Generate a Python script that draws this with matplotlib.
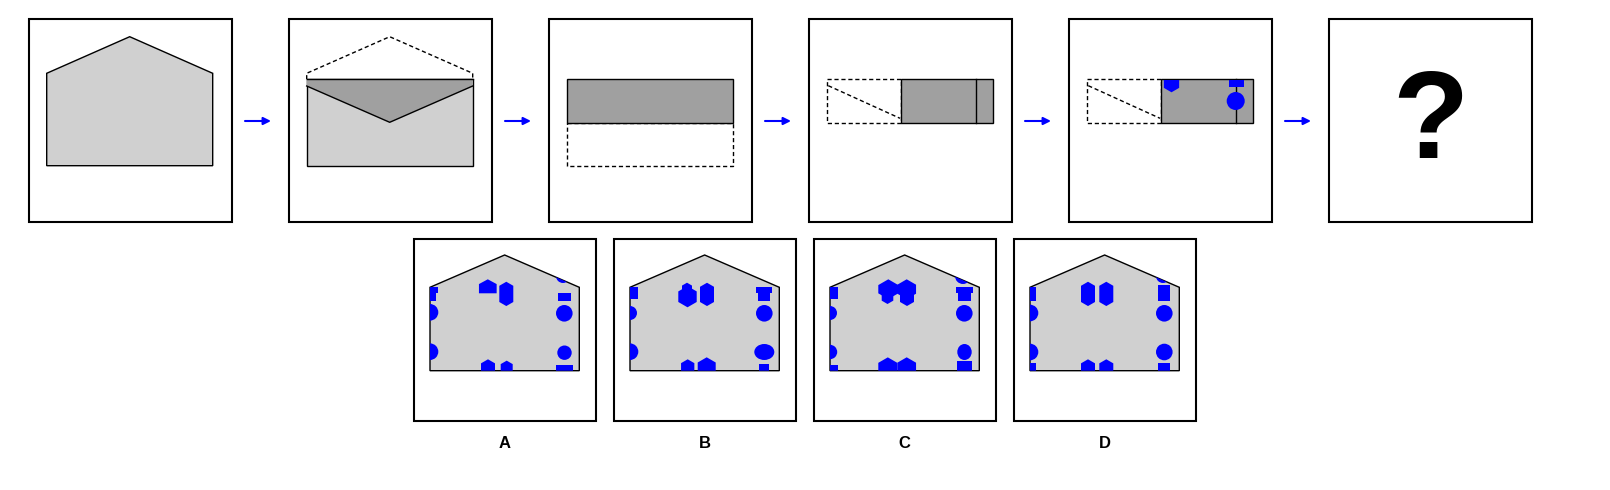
import matplotlib
matplotlib.use("Agg")
import matplotlib.pyplot as plt
from matplotlib.patches import Polygon, Rectangle, Ellipse

plt.rcParams['font.family'] = ['Liberation Sans', 'DejaVu Sans']

W, H = 1610, 490

# top row: folding steps
step_left = [29, 289, 549, 809, 1069, 1329]
step_top = 19
step_size = 203

# envelope geometry, x relative to the step box
env_x0, env_x1 = 17.7, 183.7
env_apex_y = 36.7
env_shoulder_y = 73.3
env_top_y = 79.3
env_band_y = 86.0
env_v_y = 122.3
env_mid_y = 122.7
env_bottom_y = 165.7
fold_x = 91.7
crease_x = 166.7
diag = [(19.3, 85.7), (91.0, 118.3)]

# punched holes in step 5
step5_holes = [
    ("vpent", 102.5, 80.0, 15.3, 92.3),
    ("rect", 160.0, 80.0, 175.0, 87.0),
    ("circle", 166.7, 101.0, 9.0, 9.0),
]

# bottom row: answer options
opt_left = [414, 614, 814, 1014]
opt_top = 239.3
opt_size = 181.5
opt_labels = ["A", "B", "C", "D"]
house_dx = 16.0
house_w = 149.3
house_apex_y = 255.0
house_shoulder_y = 287.3
house_bottom_y = 370.7

# holes per option, x relative to the house's left edge
holes_a = [
    ("rect", -10, 287.3, 8.3, 293.3), ("rect", -10, 293.3, 6.0, 301.0),
    ("circle", 0, 312.3, 8.3, 8.3), ("circle", 0, 351.7, 8.3, 8.3),
    ("pent", 57.8, 279.3, 17.7, 293.3),
    ("hex", 76.3, 293.9, 14.0, 24.3),
    ("circle", 133.0, 276.0, 7.0, 7.0),
    ("rect", 127.7, 293.3, 140.7, 301.0),
    ("circle", 134.3, 313.3, 8.3, 8.3), ("circle", 134.5, 352.7, 7.2, 7.2),
    ("rect", 126.0, 365.0, 142.7, 374.0),
    ("hex", 58.0, 367.4, 14.0, 16.2), ("hex", 76.7, 367.6, 12.0, 13.9),
]
holes_b = [
    ("rect", -10, 287.3, 8.3, 299.3),
    ("circle", 0, 313.0, 7.0, 7.0), ("circle", 0, 351.7, 8.3, 8.3),
    ("hex", 57.0, 288.5, 10.0, 11.6), ("hex", 57.5, 296.7, 18.4, 21.2),
    ("hex", 77.0, 294.4, 14.0, 23.3),
    ("rect", 126.0, 287.3, 142.3, 293.3), ("rect", 128.3, 293.3, 140.0, 301.0),
    ("circle", 134.3, 313.3, 8.3, 8.3), ("circle", 134.3, 352.0, 10.0, 8.0),
    ("rect", 129.0, 364.3, 139.3, 374.0),
    ("hex", 57.7, 367.0, 13.3, 15.4), ("hex", 76.7, 367.7, 18.0, 20.8),
]
holes_c = [
    ("rect", -10, 287.3, 8.3, 299.0),
    ("circle", 0, 313.0, 7.0, 7.0), ("circle", 0, 352.0, 7.2, 7.2),
    ("rect", -10, 365.0, 8.3, 374.0),
    ("hex", 58.3, 289.2, 20.0, 19.8), ("hex", 57.5, 294.0, 11.6, 20.0),
    ("hex", 76.7, 289.2, 18.7, 19.8), ("hex", 77.0, 295.0, 14.0, 22.0),
    ("circle", 133.0, 276.0, 8.0, 8.0),
    ("rect", 125.7, 287.3, 142.7, 293.3), ("rect", 127.7, 293.3, 140.7, 301.0),
    ("circle", 134.3, 313.3, 8.3, 8.3), ("circle", 134.5, 352.0, 7.2, 8.0),
    ("rect", 126.7, 361.0, 142.0, 374.0),
    ("hex", 57.8, 368.3, 19.0, 21.9), ("hex", 76.7, 368.1, 18.7, 21.6),
]
holes_d = [
    ("rect", -10, 287.3, 6.0, 301.0),
    ("circle", 0, 313.0, 8.3, 8.3), ("circle", 0, 352.0, 8.3, 8.3),
    ("rect", -10, 362.7, 6.0, 374.0),
    ("hex", 58.0, 293.9, 14.0, 24.3), ("hex", 76.3, 293.9, 14.0, 24.3),
    ("circle", 133.0, 276.0, 7.0, 7.0),
    ("rect", 127.7, 285.0, 140.0, 301.0),
    ("circle", 134.3, 313.3, 8.3, 8.3), ("circle", 134.3, 352.0, 8.3, 8.3),
    ("rect", 127.7, 362.7, 140.0, 374.0),
    ("hex", 58.0, 367.4, 14.0, 16.2), ("hex", 76.3, 367.4, 14.0, 16.2),
]
opt_holes = [holes_a, holes_b, holes_c, holes_d]

LIGHT = "#d0d0d0"
DARK = "#a0a0a0"
BLUE = "#0000ff"


def make_shape(kind, ox, a, b, c, d):
    if kind == "circle":
        return Ellipse((ox + a, b), 2 * c, 2 * d)
    if kind == "rect":
        return Rectangle((ox + a, b), c - a, d - b)
    if kind == "hex":
        cx, cy, w, h = ox + a, b, c, d
        k = min(w * 0.2887, h / 2)
        pts = [(cx, cy - h / 2), (cx + w / 2, cy - h / 2 + k), (cx + w / 2, cy + h / 2 - k),
               (cx, cy + h / 2), (cx - w / 2, cy + h / 2 - k), (cx - w / 2, cy - h / 2 + k)]
        return Polygon(pts, closed=True)
    if kind == "pent":
        cx, yt, w, yb = ox + a, b, c, d
        k = w * 0.27
        pts = [(cx, yt), (cx + w / 2, yt + k), (cx + w / 2, yb), (cx - w / 2, yb), (cx - w / 2, yt + k)]
        return Polygon(pts, closed=True)
    if kind == "vpent":
        cx, yt, w, yb = ox + a, b, c, d
        k = w * 0.29
        pts = [(cx - w / 2, yt), (cx + w / 2, yt), (cx + w / 2, yb - k), (cx, yb), (cx - w / 2, yb - k)]
        return Polygon(pts, closed=True)


def box(ax, x, y, s):
    ax.add_patch(Rectangle((x, y), s, s, fill=False, ec="black", lw=1.5, zorder=5))


fig = plt.figure(figsize=(W / 100, H / 100), dpi=100)
ax = fig.add_axes([0, 0, 1, 1])
ax.set_xlim(0, W)
ax.set_ylim(H, 0)
ax.axis("off")

dash = (0, (3, 2))

for i, x in enumerate(step_left):
    box(ax, x, step_top, step_size)
    x0, x1 = x + env_x0, x + env_x1
    xm = (x0 + x1) / 2
    if i == 0:
        ax.add_patch(Polygon([(x0, env_bottom_y), (x0, env_shoulder_y), (xm, env_apex_y),
                              (x1, env_shoulder_y), (x1, env_bottom_y)],
                             closed=True, fc=LIGHT, ec="black", lw=1))
    elif i == 1:
        ax.add_patch(Rectangle((x0, env_top_y), x1 - x0, env_bottom_y - env_top_y,
                               fc=LIGHT, ec="black", lw=1))
        ax.add_patch(Polygon([(x0, env_top_y), (x1, env_top_y), (x1, env_band_y), (xm, env_v_y),
                              (x0, env_band_y)], closed=True, fc=DARK, ec="none"))
        ax.plot([x0, xm, x1], [env_band_y, env_v_y, env_band_y], color="black", lw=1)
        ax.plot([x0, x1], [env_top_y, env_top_y], color="black", lw=1)
        ax.plot([x0, x0, xm, x1, x1], [env_top_y, env_shoulder_y, env_apex_y, env_shoulder_y, env_top_y],
                color="black", lw=1, ls=dash)
    elif i == 2:
        ax.add_patch(Rectangle((x0, env_mid_y), x1 - x0, env_bottom_y - env_mid_y,
                               fill=False, ec="black", lw=1, ls=dash))
        ax.add_patch(Rectangle((x0, env_top_y), x1 - x0, env_mid_y - env_top_y,
                               fc=DARK, ec="black", lw=1))
    elif i in (3, 4):
        xf = x + fold_x
        ax.add_patch(Rectangle((x0, env_top_y), xf - x0, env_mid_y - env_top_y,
                               fill=False, ec="black", lw=1, ls=dash))
        ax.plot([x + diag[0][0], x + diag[1][0]], [diag[0][1], diag[1][1]],
                color="black", lw=1, ls=dash)
        ax.add_patch(Rectangle((xf, env_top_y), x1 - xf, env_mid_y - env_top_y,
                               fc=DARK, ec="black", lw=1))
        ax.plot([x + crease_x] * 2, [env_top_y, env_mid_y], color="black", lw=1)
        if i == 4:
            for kind, a, b, c, d in step5_holes:
                p = make_shape(kind, x, a, b, c, d)
                p.set_facecolor(BLUE)
                p.set_edgecolor("none")
                p.set_zorder(3)
                ax.add_patch(p)
    else:
        ax.text(x + step_size / 2, 157.7, "?", fontsize=90, fontweight="bold",
                ha="center", va="baseline", color="black")

    if i < len(step_left) - 1:
        xr = x + step_size
        ax.annotate("", xy=(xr + 39, 121), xytext=(xr + 13, 121),
                    arrowprops=dict(arrowstyle="-|>", color=BLUE, lw=1.5,
                                    mutation_scale=11, shrinkA=0, shrinkB=0))

for x, label, holes in zip(opt_left, opt_labels, opt_holes):
    box(ax, x, opt_top, opt_size)
    hx0 = x + house_dx
    hx1 = hx0 + house_w
    house_pts = [(hx0, house_bottom_y), (hx0, house_shoulder_y), ((hx0 + hx1) / 2, house_apex_y),
                 (hx1, house_shoulder_y), (hx1, house_bottom_y)]
    house = Polygon(house_pts, closed=True, fc=LIGHT, ec="black", lw=1, zorder=1)
    ax.add_patch(house)
    for kind, a, b, c, d in holes:
        p = make_shape(kind, hx0, a, b, c, d)
        p.set_facecolor(BLUE)
        p.set_edgecolor("none")
        p.set_zorder(2)
        ax.add_patch(p)
        p.set_clip_path(house)
    ax.text(x + opt_size / 2, 448, label, fontsize=12, fontweight="bold",
            ha="center", va="baseline")

fig.savefig("out.png", dpi=100)
